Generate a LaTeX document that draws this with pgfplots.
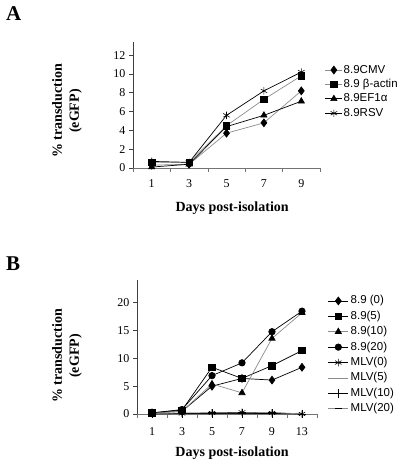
\documentclass[border=0pt]{standalone}
\usepackage{fontspec}
\setmainfont{Liberation Serif}
\newfontfamily\legendfont{Liberation Sans}
\usepackage{pgfplots}
\pgfplotsset{compat=1.18}
\usetikzlibrary{plotmarks}
\definecolor{lgray}{gray}{0.55}
\definecolor{agray}{gray}{0.45}

\pgfplotsset{
  panel/.style={
    scale only axis,
    clip=false,
    axis x line*=bottom,
    axis y line*=left,
    x axis line style={agray, line width=0.7pt, -},
    y axis line style={black!75, line width=0.7pt, -},
    tick align=outside,
    major tick length=4pt,
    minor tick length=4pt,
    major x tick style={draw=none},
    minor x tick style={agray, line width=0.6pt},
    major y tick style={black!75, line width=0.6pt},
    tick label style={font=\fontsize{12}{14}\selectfont},
    /pgf/number format/assume math mode=true,
    label style={font=\bfseries\fontsize{14}{17}\selectfont},
    every axis plot/.append style={line width=0.7pt, mark size=3.4pt},
    legend style={draw=none, fill=none, inner sep=0pt, outer sep=0pt,
      font=\legendfont\fontsize{11.5}{13}\selectfont,
      nodes={inner sep=1pt, text height=8pt, text depth=2pt},
      legend cell align=left},
  },
}

\begin{document}
\begin{tikzpicture}
% ---------- Panel A ----------
\node[anchor=base west, font=\bfseries\fontsize{21}{24}\selectfont, inner sep=0pt] at (6pt,{465pt-21pt}) {A};
\begin{axis}[panel,
  at={(133pt,297pt)}, anchor=south west,
  width=187pt, height=126pt,
  xmin=-0.5, xmax=4.5, ymin=0, ymax=13.4,
  xtick={0,1,2,3,4}, xticklabels={1,3,5,7,9},
  minor xtick={-0.5,0.5,1.5,2.5,3.5,4.5},
  ytick={0,2,4,6,8,10,12},
  xticklabel style={yshift=-4pt},
  xlabel={Days post-isolation},
  xlabel style={at={(axis description cs:0.53,-0.317)}, anchor=center},
  ylabel={\% transduction\\(eGFP)},
  ylabel style={at={(axis description cs:-0.353,0.452)}, anchor=center, align=center, rotate=0},
  legend style={at={(axis description cs:1.027,0.825)}, anchor=north west, row sep=2.4pt},
  legend image code/.code={\draw[mark repeat=2,mark phase=2,#1] plot coordinates {(0pt,0pt) (8.5pt,0pt) (17pt,0pt)};},
]
\addplot[lgray, mark=diamond*, mark options={black, fill=black, scale=1.15}] coordinates {(0,0.3) (1,0.4) (2,3.7) (3,4.8) (4,8.2)};
\addlegendentry{8.9CMV}
\addplot[lgray, mark=square*, mark options={black, fill=black, scale=0.95}] coordinates {(0,0.6) (1,0.6) (2,4.5) (3,7.3) (4,9.8)};
\addlegendentry{8.9 β-actin}
\addplot[black, mark=triangle*, mark options={black, fill=black, scale=1.05}] coordinates {(0,0.1) (1,0.4) (2,4.4) (3,5.6) (4,7.1)};
\addlegendentry{8.9EF1α}
\addplot[black, mark=asterisk, mark options={black, scale=1.1, line width=0.6pt}] coordinates {(0,0.7) (1,0.6) (2,5.6) (3,8.2) (4,10.2)};
\addlegendentry{8.9RSV}
\end{axis}

% ---------- Panel B ----------
\node[anchor=base west, font=\bfseries\fontsize{21}{24}\selectfont, inner sep=0pt] at (6pt,{465pt-271pt}) {B};
\begin{axis}[panel,
  at={(137pt,51pt)}, anchor=south west,
  width=180pt, height=134pt,
  xmin=-0.5, xmax=5.5, ymin=0, ymax=24.1,
  xtick={0,1,2,3,4,5}, xticklabels={1,3,5,7,9,13},
  minor xtick={-0.5,0.5,1.5,2.5,3.5,4.5,5.5},
  ytick={0,5,10,15,20},
  xticklabel style={yshift=-6pt},
  xlabel={Days post-isolation},
  xlabel style={at={(axis description cs:0.528,-0.29)}, anchor=center},
  ylabel={\% transduction\\(eGFP)},
  ylabel style={at={(axis description cs:-0.389,0.433)}, anchor=center, align=center},
  legend style={at={(axis description cs:1.061,0.896)}, anchor=north west, row sep=1.4pt},
  legend image code/.code={\draw[mark repeat=2,mark phase=2,#1] plot coordinates {(0pt,0pt) (10pt,0pt) (20pt,0pt)};},
  legend style={nodes={inner sep=2pt}},
]
\addplot[black, mark=diamond*, mark options={black, fill=black, scale=1.15}] coordinates {(0,0.2) (1,0.5) (2,5.0) (3,6.4) (4,6.1) (5,8.4)};
\addlegendentry{8.9 (0)}
\addplot[black, mark=square*, mark options={black, fill=black, scale=0.95}] coordinates {(0,0.2) (1,0.7) (2,8.4) (3,6.4) (4,8.7) (5,11.4)};
\addlegendentry{8.9(5)}
\addplot[lgray, mark=triangle*, mark options={black, fill=black, scale=1.05}] coordinates {(0,0.2) (1,0.5) (2,5.4) (3,3.8) (4,13.6) (5,18.2)};
\addlegendentry{8.9(10)}
\addplot[black, mark=*, mark options={black, fill=black, scale=0.95}] coordinates {(0,0.2) (1,0.8) (2,6.9) (3,9.2) (4,14.8) (5,18.5)};
\addlegendentry{8.9(20)}
\addplot[black, mark=asterisk, mark options={black, scale=1.1, line width=0.6pt}] coordinates {(0,0.1) (1,0.1) (2,0.2) (3,0.3) (4,0.2) (5,0.0)};
\addlegendentry{MLV(0)}
\addplot[lgray] coordinates {(0,0.1) (1,0.1) (2,0.1) (3,0.2) (4,0.1) (5,0.0)};
\addlegendentry{MLV(5)}
\addplot[black, mark=+, mark options={black, scale=1.3, line width=0.6pt}] coordinates {(0,0.0) (1,0.1) (2,0.1) (3,0.1) (4,0.1) (5,0.0)};
\addlegendentry{MLV(10)}
\addplot[lgray, mark=-, mark options={black, scale=1.1, line width=1pt}] coordinates {(0,0.1) (1,0.2) (2,0.2) (3,0.2) (4,0.3) (5,0.0)};
\addlegendentry{MLV(20)}
\end{axis}
\pgfresetboundingbox
\path[use as bounding box] (0,0) rectangle (400pt,465pt);
\end{tikzpicture}
\end{document}
